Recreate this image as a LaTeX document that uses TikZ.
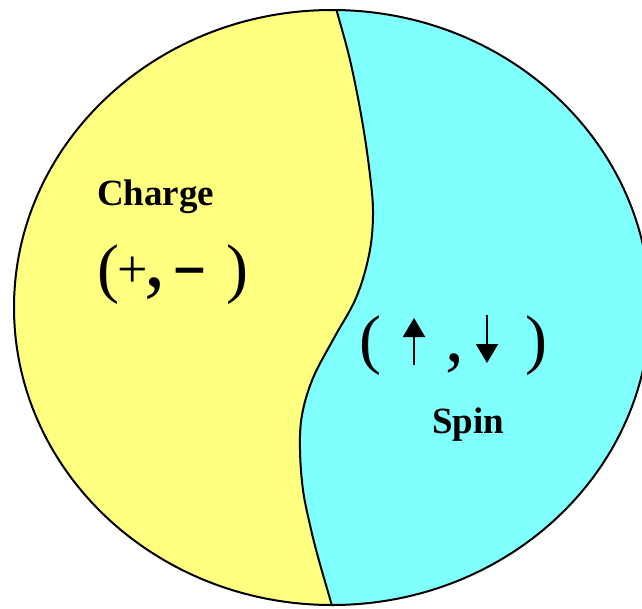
\documentclass[tikz,border=0pt]{standalone}
\usepackage{fontspec}
\setmainfont{Liberation Serif}
\newfontfamily\djv{DejaVu Sans}
\usetikzlibrary{arrows.meta}
\definecolor{chargeyellow}{RGB}{255,255,128}
\definecolor{spincyan}{RGB}{128,255,255}
\tikzset{
  lbl/.style={anchor=base west,inner sep=0pt,outer sep=0pt},
  outline/.style={draw=black,line width=2pt},
  spinarrow/.style={line width=2pt,-{Triangle[length=19pt,width=22pt]}}
}
\newcommand{\fsz}[1]{\fontsize{#1}{#1}\selectfont}
\begin{document}
\begin{tikzpicture}[x=1pt,y=-1pt]
\useasboundingbox (0,0) rectangle (642,608);
\def\divider{(335,0) (336,8) (350,60) (362,120) (370,175) (373,215) (369,255) (356,298) (334,338) (313,378) (302,415) (300,450) (303,490) (310,525) (318,557) (332,606) (334,616)}
\begin{scope}
  \clip (332,307.5) ellipse [x radius=318, y radius=297.5];
  \fill[spincyan] (0,0) rectangle (660,620);
  \fill[chargeyellow] plot[smooth,tension=0.6] coordinates {\divider} -- (0,616) -- (0,0) -- cycle;
  \draw[line width=2pt] plot[smooth,tension=0.6] coordinates {\divider};
\end{scope}
\draw[outline] (332,307.5) ellipse [x radius=318, y radius=297.5];
% Charge side
\node[lbl,font=\bfseries\fsz{37}] (charge) at (97,205) {Charge};
\node[lbl] (chargepair) at (97,290) {\fsz{66}(\hspace{-1.6pt}\raisebox{3pt}{\fsz{54}+}\hspace{-3.5pt}\raisebox{4pt}{\fsz{85},}\hspace{5.5pt}\raisebox{6pt}{\djv\bfseries\fsz{44}−}\hspace{18.1pt})};
% Spin side
\node[lbl,font=\fsz{66}] (lpr) at (359.8,361.3) {(};
\coordinate (upfoot) at (414,365);
\coordinate (uptip) at (414,318);
\draw[spinarrow] (upfoot) -- (uptip);
\node[lbl,font=\fsz{75}] (commar) at (445.8,361.4) {,};
\coordinate (downfoot) at (487,315);
\coordinate (downtip) at (487,363);
\draw[spinarrow] (downfoot) -- (downtip);
\node[lbl,font=\fsz{66}] (rpr) at (525,361.3) {)};
\node[lbl,font=\bfseries\fsz{37}] (spin) at (432,433) {Spin};
\end{tikzpicture}
\end{document}
